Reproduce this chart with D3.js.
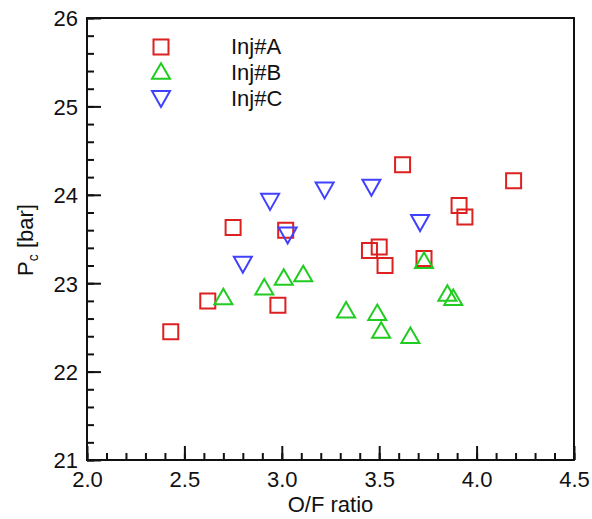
<!DOCTYPE html>
<html>
<head>
<meta charset="utf-8">
<script src="https://cdn.jsdelivr.net/npm/d3@7"></script>
<style>
  body { margin: 0; background: #fff; }
  svg { font-family: "Liberation Sans", Arial, sans-serif; }
</style>
</head>
<body>
<svg width="592" height="519"></svg>
<script>
// data
var seriesNames = ["Inj#A", "Inj#B", "Inj#C"];

var injA_of = [2.43, 2.62, 2.75, 2.98, 3.02, 3.45, 3.50, 3.53, 3.62, 3.73, 3.91, 3.94, 4.19];
var injA_pc = [22.45, 22.80, 23.63, 22.75, 23.60, 23.37, 23.41, 23.20, 24.34, 23.28, 23.88, 23.75, 24.16];

var injB_of = [2.70, 2.91, 3.01, 3.11, 3.33, 3.49, 3.51, 3.66, 3.73, 3.85, 3.88];
var injB_pc = [22.85, 22.96, 23.07, 23.11, 22.70, 22.67, 22.47, 22.41, 23.26, 22.89, 22.84];

var injC_of = [2.80, 2.94, 3.03, 3.22, 3.46, 3.71];
var injC_pc = [23.21, 23.92, 23.54, 24.05, 24.08, 23.68];

var xTicks = [2.0, 2.5, 3.0, 3.5, 4.0, 4.5];
var yTicks = [21, 22, 23, 24, 25, 26];

var colors = ["#dd2020", "#20cc20", "#4040ff"];

var svg = d3.select("svg");

// plot frame edges (note: "top" is taken by window.top)
var pLeft = 87, pRight = 574, pTop = 18, pBottom = 460;

var x = d3.scaleLinear().domain([2.0, 4.5]).range([pLeft, pRight]);
var y = d3.scaleLinear().domain([21, 26]).range([pBottom, pTop]);

// minor ticks (inside)
var xMinor = d3.range(20, 46).map(function(d) { return d / 10; });
var yMinor = d3.range(105, 131).map(function(d) { return d / 5; });

svg.append("g")
    .attr("transform", "translate(0," + pBottom + ")")
    .call(d3.axisBottom(x).tickValues(xMinor).tickSize(-7).tickFormat(""))
    .call(function(g) { g.select(".domain").remove(); });

svg.append("g")
    .attr("transform", "translate(" + pLeft + ",0)")
    .call(d3.axisLeft(y).tickValues(yMinor).tickSize(-7).tickFormat(""))
    .call(function(g) { g.select(".domain").remove(); });

// major ticks + labels
var xAxis = svg.append("g")
    .attr("transform", "translate(0," + pBottom + ")")
    .call(d3.axisBottom(x).tickValues(xTicks).tickSizeInner(-14).tickSizeOuter(0)
        .tickPadding(0).tickFormat(d3.format(".1f")));
xAxis.select(".domain").remove();
xAxis.selectAll("text").attr("y", 27).attr("dy", 0).style("font-size", "22px").attr("fill", "#111");

var yAxis = svg.append("g")
    .attr("transform", "translate(" + pLeft + ",0)")
    .call(d3.axisLeft(y).tickValues(yTicks).tickSizeInner(-14).tickSizeOuter(0)
        .tickFormat(d3.format("d")));
yAxis.select(".domain").remove();
yAxis.selectAll("text").attr("x", -9).attr("dy", "0.36em").style("font-size", "22px").attr("fill", "#111");

svg.selectAll(".tick line").attr("stroke", "#111").attr("stroke-width", 2);

// frame
svg.append("rect")
    .attr("x", pLeft).attr("y", pTop)
    .attr("width", pRight - pLeft).attr("height", pBottom - pTop)
    .attr("fill", "none").attr("stroke", "#111").attr("stroke-width", 2);

// axis titles
svg.append("text")
    .attr("x", (pLeft + pRight) / 2).attr("y", 512)
    .attr("text-anchor", "middle")
    .style("font-size", "22px").attr("fill", "#111")
    .text("O/F ratio");

var yt = svg.append("text")
    .attr("transform", "translate(33,240) rotate(-90)")
    .attr("text-anchor", "middle")
    .style("font-size", "22px").attr("fill", "#111");
yt.append("tspan").text("P");
yt.append("tspan").attr("dy", 5).style("font-size", "14px").text("c");
yt.append("tspan").attr("dy", -5).text(" [bar]");

// markers
function squarePath(s) {
  var h = s / 2;
  return "M" + (-h) + "," + (-h) + "H" + h + "V" + h + "H" + (-h) + "Z";
}
function triUp(w, hgt) {
  return "M0," + (-hgt / 2) + "L" + (w / 2) + "," + (hgt / 2) + "L" + (-w / 2) + "," + (hgt / 2) + "Z";
}
function triDown(w, hgt) {
  return "M0," + (hgt / 2) + "L" + (w / 2) + "," + (-hgt / 2) + "L" + (-w / 2) + "," + (-hgt / 2) + "Z";
}
var shapes = [squarePath(15), triUp(18, 15.5), triDown(18, 16)];

var series = [
  d3.zip(injA_of, injA_pc),
  d3.zip(injB_of, injB_pc),
  d3.zip(injC_of, injC_pc)
];

series.forEach(function(pts, i) {
  svg.append("g").selectAll("path")
    .data(pts)
    .enter()
    .append("path")
    .attr("d", shapes[i])
    .attr("transform", function(d) { return "translate(" + x(d[0]) + "," + y(d[1]) + ")"; })
    .attr("fill", "none")
    .attr("stroke", colors[i])
    .attr("stroke-width", 2);
});

// legend
var legendY = [47, 71, 99];
var lg = svg.append("g");
seriesNames.forEach(function(name, i) {
  lg.append("path")
    .attr("d", shapes[i])
    .attr("transform", "translate(161," + legendY[i] + ")")
    .attr("fill", "none")
    .attr("stroke", colors[i])
    .attr("stroke-width", 2);
  lg.append("text")
    .attr("x", 231).attr("y", [54, 80, 106][i])
    .style("font-size", "22px").attr("fill", "#111")
    .text(name);
});
</script>
</body>
</html>
